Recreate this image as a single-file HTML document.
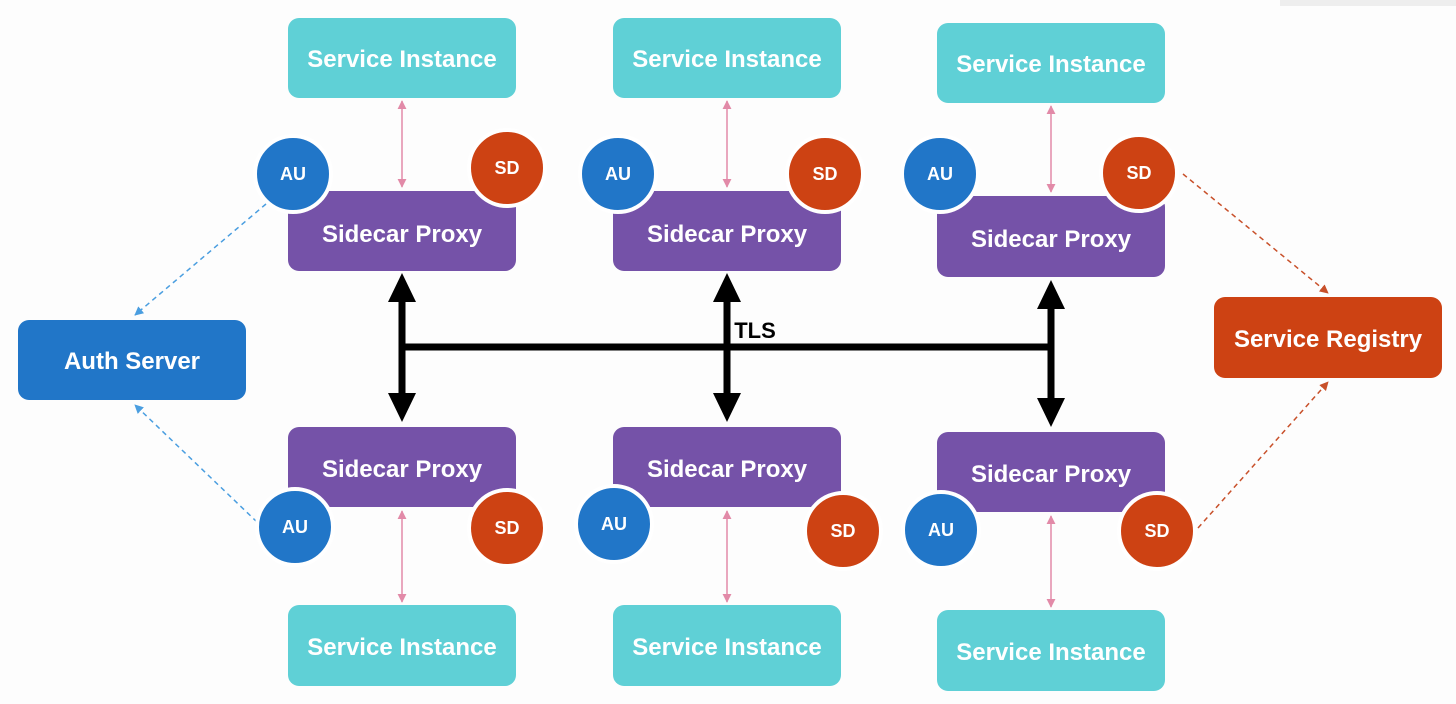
<!DOCTYPE html>
<html><head><style>body{margin:0;background:#fdfdfd}svg{display:block}</style></head><body>
<svg width="1456" height="704" viewBox="0 0 1456 704" xmlns="http://www.w3.org/2000/svg" font-family="Liberation Sans, sans-serif" font-weight="bold">
<defs>
<marker id="pk" viewBox="0 0 10 10" refX="9" refY="5" markerWidth="6" markerHeight="6" orient="auto-start-reverse"><path d="M0,0L10,5L0,10z" fill="#e28aa8"/></marker>
<marker id="bl" viewBox="0 0 10 10" refX="9" refY="5" markerWidth="6" markerHeight="6" orient="auto"><path d="M0,0L10,5L0,10z" fill="#4a9ee0"/></marker>
<marker id="rd" viewBox="0 0 10 10" refX="9" refY="5" markerWidth="6" markerHeight="6" orient="auto"><path d="M0,0L10,5L0,10z" fill="#c8502a"/></marker>
</defs>
<rect width="1456" height="704" fill="#fdfdfd"/>
<rect x="1280" y="0" width="176" height="6" fill="#eee"/>
<g fill="#5fd0d6">
<rect x="288" y="18" width="228" height="80" rx="11"/><rect x="613" y="18" width="228" height="80" rx="11"/><rect x="937" y="23" width="228" height="80" rx="11"/>
<rect x="288" y="605" width="228" height="81" rx="11"/><rect x="613" y="605" width="228" height="81" rx="11"/><rect x="937" y="610" width="228" height="81" rx="11"/>
</g>
<g fill="#7552a8">
<rect x="288" y="191" width="228" height="80" rx="11"/><rect x="613" y="191" width="228" height="80" rx="11"/><rect x="937" y="196" width="228" height="81" rx="11"/>
<rect x="288" y="427" width="228" height="80" rx="11"/><rect x="613" y="427" width="228" height="80" rx="11"/><rect x="937" y="432" width="228" height="80" rx="11"/>
</g>
<rect x="18" y="320" width="228" height="80" rx="11" fill="#2176c8"/>
<rect x="1214" y="297" width="228" height="81" rx="11" fill="#cd4213"/>
<g stroke="#e28aa8" stroke-width="1.5" marker-start="url(#pk)" marker-end="url(#pk)">
<line x1="402" y1="101" x2="402" y2="187"/><line x1="727" y1="101" x2="727" y2="187"/><line x1="1051" y1="106" x2="1051" y2="192"/>
<line x1="402" y1="511" x2="402" y2="602"/><line x1="727" y1="511" x2="727" y2="602"/><line x1="1051" y1="516" x2="1051" y2="607"/>
</g>
<g stroke-width="1.5" stroke-dasharray="5,4" fill="none">
<line x1="266" y1="204" x2="135" y2="315" stroke="#4a9ee0" marker-end="url(#bl)"/>
<line x1="257" y1="522" x2="135" y2="405" stroke="#4a9ee0" marker-end="url(#bl)"/>
<line x1="1183" y1="174" x2="1328" y2="293" stroke="#c8502a" marker-end="url(#rd)"/>
<line x1="1198" y1="528" x2="1328" y2="382" stroke="#c8502a" marker-end="url(#rd)"/>
</g>
<g stroke="#000" stroke-width="7">
<line x1="402" y1="347" x2="1051" y2="347"/>
<line x1="402" y1="295" x2="402" y2="400"/><line x1="727" y1="295" x2="727" y2="400"/><line x1="1051" y1="302" x2="1051" y2="405"/>
</g>
<g fill="#000">
<path d="M402,273L388,302L416,302z M402,422L388,393L416,393z"/>
<path d="M727,273L713,302L741,302z M727,422L713,393L741,393z"/>
<path d="M1051,280L1037,309L1065,309z M1051,427L1037,398L1065,398z"/>
</g>
<text x="755" y="338" font-size="22" text-anchor="middle" fill="#000">TLS</text>
<g stroke="#fff" stroke-width="4">
<circle cx="293" cy="174" r="38" fill="#2176c8"/><circle cx="507" cy="168" r="38" fill="#cd4213"/>
<circle cx="618" cy="174" r="38" fill="#2176c8"/><circle cx="825" cy="174" r="38" fill="#cd4213"/>
<circle cx="940" cy="174" r="38" fill="#2176c8"/><circle cx="1139" cy="173" r="38" fill="#cd4213"/>
<circle cx="295" cy="527" r="38" fill="#2176c8"/><circle cx="507" cy="528" r="38" fill="#cd4213"/>
<circle cx="614" cy="524" r="38" fill="#2176c8"/><circle cx="843" cy="531" r="38" fill="#cd4213"/>
<circle cx="941" cy="530" r="38" fill="#2176c8"/><circle cx="1157" cy="531" r="38" fill="#cd4213"/>
</g>
<g fill="#fff" font-size="18" text-anchor="middle">
<text x="293" y="180">AU</text><text x="507" y="174">SD</text>
<text x="618" y="180">AU</text><text x="825" y="180">SD</text>
<text x="940" y="180">AU</text><text x="1139" y="179">SD</text>
<text x="295" y="533">AU</text><text x="507" y="534">SD</text>
<text x="614" y="530">AU</text><text x="843" y="537">SD</text>
<text x="941" y="536">AU</text><text x="1157" y="537">SD</text>
</g>
<g fill="#fff" font-size="24" text-anchor="middle">
<text x="402" y="67">Service Instance</text><text x="727" y="67">Service Instance</text><text x="1051" y="72">Service Instance</text>
<text x="402" y="655">Service Instance</text><text x="727" y="655">Service Instance</text><text x="1051" y="660">Service Instance</text>
<text x="402" y="242">Sidecar Proxy</text><text x="727" y="242">Sidecar Proxy</text><text x="1051" y="247">Sidecar Proxy</text>
<text x="402" y="477">Sidecar Proxy</text><text x="727" y="477">Sidecar Proxy</text><text x="1051" y="482">Sidecar Proxy</text>
<text x="132" y="369">Auth Server</text><text x="1328" y="347">Service Registry</text>
</g>
</svg>
</body></html>
